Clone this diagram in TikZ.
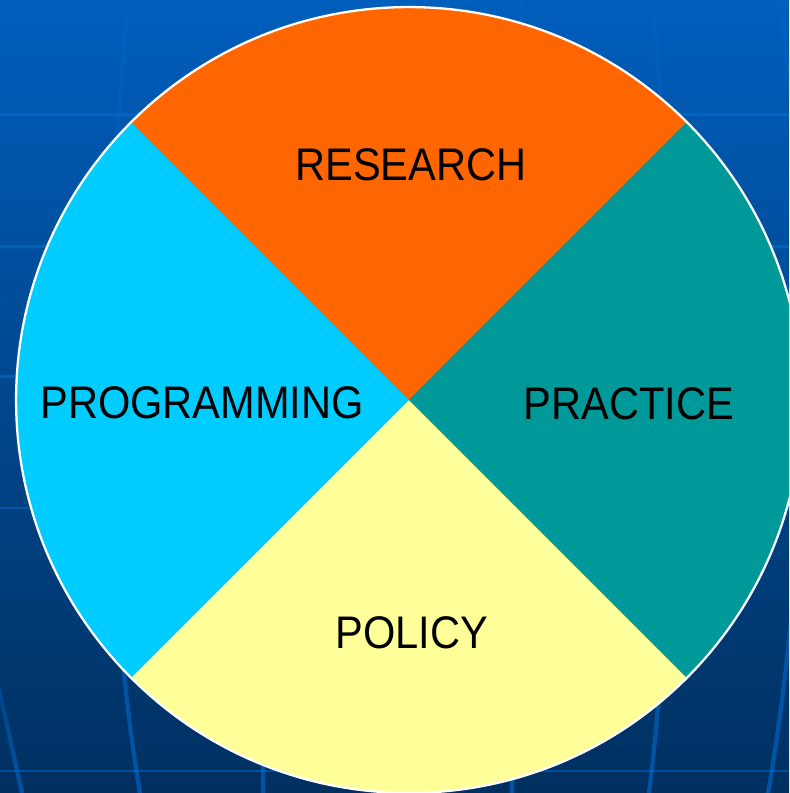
\documentclass[tikz,border=0pt]{standalone}
\usepackage{fontspec}
\setmainfont{Liberation Sans}[FakeStretch=0.91]
\usetikzlibrary{positioning,calc,fadings}
\definecolor{BgTopCol}{HTML}{005EBC}
\definecolor{BgBotCol}{HTML}{003060}
\definecolor{GridCol}{HTML}{0078EB}
\definecolor{ResearchCol}{HTML}{FF6600}
\definecolor{PracticeCol}{HTML}{009999}
\definecolor{PolicyCol}{HTML}{FFFF99}
\definecolor{ProgrammingCol}{HTML}{00CCFF}
\tikzfading[name=fade up, top color=transparent!75, bottom color=transparent!0]
\tikzset{
  grid line/.style ={
    draw = GridCol,
    draw opacity = .4,
    line width = 1.7pt,
    },
  curve line/.style ={
    grid line,
    line width = 2.4pt,
    draw opacity = .5,
    path fading = fade up,
    },
  sector/.style ={
    fill = #1,
    draw = none,
    },
  sector label/.style ={
    text = black,
    font = \fontsize{26}{30}\selectfont,
    anchor = center,
    inner sep = 0pt,
    },
}
\def\rad{7.86cm}

\begin{document}
\begin{tikzpicture}[x=0.02cm,y=0.02cm]

    \useasboundingbox (0,0) rectangle (789,793);
    \clip (0,0) rectangle (789,793);

    % Background
    \shade[top color=BgTopCol,bottom color=BgBotCol] (0,0) rectangle (789,793);

    \foreach \gy in {678,546,416,285,22}
        \draw[grid line] (-5,\gy) -- (794,\gy);

    \draw[curve line] (-10,145) -- (22,0);
    \draw[curve line] (128,793) .. controls (106,563) and (100,233) .. (140,0);
    \draw[curve line] (261,793) -- (263,0);
    \draw[curve line] (522,793) -- (512,0);
    \draw[curve line] (653,793) .. controls (674,563) and (678,233) .. (649,0);
    \draw[curve line] (780,793) .. controls (812,553) and (812,253) .. (768,0);

    % Sectors
    \coordinate (ctr) at (409,393);

    \fill[sector=ResearchCol] (ctr) -- ++(45:\rad) arc (45:135:\rad) -- cycle;
    \fill[sector=ProgrammingCol] (ctr) -- ++(135:\rad) arc (135:225:\rad) -- cycle;
    \fill[sector=PolicyCol] (ctr) -- ++(225:\rad) arc (225:315:\rad) -- cycle;
    \fill[sector=PracticeCol] (ctr) -- ++(-45:\rad) arc (-45:45:\rad) -- cycle;

    \draw[white,line width=1.3pt] (ctr) circle (\rad);

    % Labels
    \node[sector label] (research) at (411,628) {RESEARCH};
    \node[sector label] (programming) at (202,390) {PROGRAMMING};
    \node[sector label] (practice) at (629,389) {PRACTICE};
    \node[sector label] (policy) at (412,160) {POLICY};

\end{tikzpicture}
\end{document}
